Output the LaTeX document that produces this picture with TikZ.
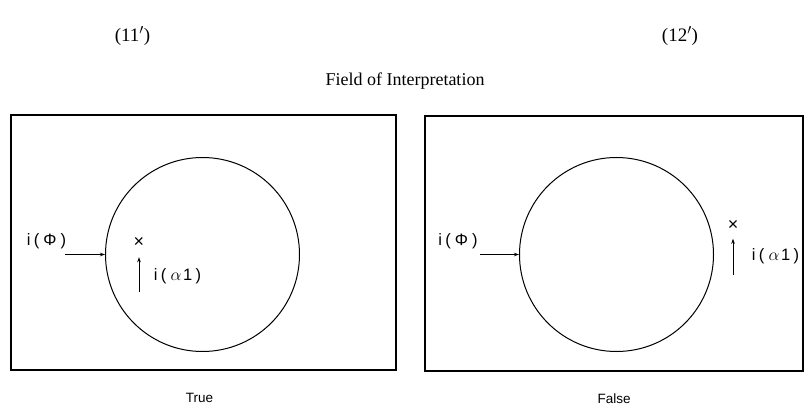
\documentclass[tikz,border=0pt]{standalone}
\usepackage{fontspec}
\setmainfont{Liberation Serif}
\setsansfont{Liberation Sans}
\usetikzlibrary{arrows.meta,positioning}

\begin{document}
\begin{tikzpicture}[x=1pt, y=-1pt,
  field/.style={draw, line width=1.3pt, minimum height=255pt, inner sep=0pt},
  disc/.style={draw, circle, line width=1pt, minimum size=194pt, inner sep=0pt},
  lbl/.style={font=\sffamily\fontsize{16.5}{19}\selectfont, inner sep=0pt},
  verdict/.style={font=\sffamily\fontsize{13.5}{16}\selectfont, inner sep=0pt},
  heading/.style={font=\fontsize{19}{22}\selectfont, inner sep=0pt},
  xmark/.style={font=\sffamily\fontsize{18}{20}\selectfont, inner sep=0pt},
  arr/.style={-{Stealth[length=5pt, width=3.5pt]}, line width=1pt}
]
  \useasboundingbox (0,0) rectangle (808,406);

  \node[heading] (numL) at (132.5,36) {(11$'$)};
  \node[heading] (numR) at (680,36) {(12$'$)};
  \node[heading, font=\fontsize{18}{21}\selectfont] (title) at (405,81) {Field of Interpretation};

  % true case
  \node[field, minimum width=385pt] (boxL) at (203.5,242.5) {};
  \node[disc] (circL) at (202.5,254.5) {};
  \node[lbl] (phiL) at (46.5,241.5) {i\hspace{0.2em}(\hspace{0.25em}Φ\hspace{0.25em})};
  \coordinate (phiLs) at (65,254.5);
  \node[xmark] (ptL) at (139,242) {×};
  \coordinate (alLs) at (139,292);
  \node[lbl] (alL) at (177.5,276.5) {i\hspace{0.2em}(\hspace{0.25em}$\alpha$\hspace{0.1em}1\hspace{0.2em})};
  \node[verdict, below=22pt of boxL, xshift=-4pt] (trueL) {True};

  % false case
  \node[field, minimum width=378pt] (boxR) at (614,243.5) {};
  \node[disc] (circR) at (616.5,254.5) {};
  \node[lbl] (phiR) at (458,241.5) {i\hspace{0.2em}(\hspace{0.25em}Φ\hspace{0.25em})};
  \coordinate (phiRs) at (480,254.5);
  \node[xmark] (ptR) at (733,225) {×};
  \coordinate (alRs) at (733,275);
  \node[lbl] (alR) at (775.5,256) {i\hspace{0.2em}(\hspace{0.25em}$\alpha$\hspace{0.1em}1\hspace{0.2em})};
  \node[verdict, below=22pt of boxR] (falseR) {False};

  \draw[arr] (phiLs) -- (circL.west);
  \draw[arr, shorten >=10pt] (alLs) -- (ptL.south);
  \draw[arr] (phiRs) -- (circR.west);
  \draw[arr, shorten >=8.5pt] (alRs) -- (ptR.south);
\end{tikzpicture}
\end{document}
